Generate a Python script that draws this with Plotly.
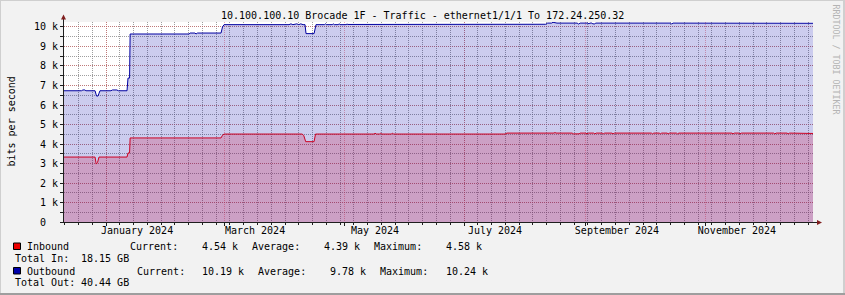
import plotly.graph_objects as go

# ---------------- data ----------------
title_text = "10.100.100.10 Brocade 1F - Traffic - ethernet1/1/1 To 172.24.250.32"
y_title = "bits per second"
watermark = "RRDTOOL / TOBI OETIKER"

x_range = ["2023-12-10 15:00", "2024-12-25 10:00"]
y_max = 10256

month_ticks = ["2024-01-01", "2024-03-01", "2024-05-01", "2024-07-01", "2024-09-01", "2024-11-01"]
month_labels = ["January 2024", "March 2024", "May 2024", "July 2024", "September 2024", "November 2024"]

y_tickvals = [0, 1000, 2000, 3000, 4000, 5000, 6000, 7000, 8000, 9000, 10000]
y_ticktext = ["0\u00a0\u00a0", "1 k", "2 k", "3 k", "4 k", "5 k", "6 k", "7 k", "8 k", "9 k", "10 k"]

out_dates = [
    "2023-12-10 15:00", "2023-12-19 12:00", "2023-12-20 06:00", "2023-12-21 06:00", "2023-12-21 18:00",
    "2023-12-26 10:00", "2023-12-27 04:00", "2023-12-27 22:00", "2023-12-28 10:00", "2023-12-28 22:00",
    "2024-01-03 12:00", "2024-01-04 06:00", "2024-01-06 12:00", "2024-01-07 06:00", "2024-01-11 16:00",
    "2024-01-12 04:00", "2024-01-12 23:00", "2024-01-13 06:00", "2024-02-12 05:00", "2024-02-12 17:00",
    "2024-02-15 05:00", "2024-02-15 18:00", "2024-02-16 12:00", "2024-02-28 11:00", "2024-02-29 05:00",
    "2024-03-01 00:00", "2024-04-03 00:00", "2024-04-04 00:00", "2024-04-05 00:00", "2024-04-07 00:00",
    "2024-04-08 00:00", "2024-04-09 00:00", "2024-04-10 04:00", "2024-04-11 04:00", "2024-04-11 16:00",
    "2024-04-15 18:00", "2024-04-16 18:00", "2024-04-21 00:00", "2024-04-21 12:00", "2024-04-22 00:00",
    "2024-04-25 00:00", "2024-04-25 12:00", "2024-04-26 00:00", "2024-04-28 00:00", "2024-04-28 12:00",
    "2024-04-29 00:00", "2024-05-02 00:00", "2024-05-02 12:00", "2024-05-03 00:00", "2024-08-11 12:00",
    "2024-08-12 12:00", "2024-08-14 12:00", "2024-08-15 06:00", "2024-08-16 06:00", "2024-08-17 06:00",
    "2024-08-27 12:00", "2024-08-28 06:00", "2024-08-29 00:00", "2024-09-02 00:00", "2024-09-02 12:00",
    "2024-09-03 00:00", "2024-09-04 00:00", "2024-09-04 12:00", "2024-09-05 12:00", "2024-09-06 00:00",
    "2024-10-14 00:00", "2024-10-14 12:00", "2024-10-15 06:00", "2024-12-25 10:00",
]
out_vals = [
    6730, 6730, 6770, 6770, 6730,
    6730, 6460, 6460, 6600, 6730,
    6730, 6770, 6770, 6730, 6730,
    7380, 7380, 9640, 9640, 9690,
    9690, 9640, 9690, 9690, 10000,
    10120, 10120, 10160, 10120, 10160,
    10120, 10160, 10120, 10120, 9660,
    9660, 10120, 10120, 10160, 10120,
    10120, 10160, 10120, 10120, 10160,
    10120, 10120, 10150, 10130, 10140,
    10200, 10200, 10240, 10220, 10200,
    10200, 10150, 10200, 10200, 10160,
    10200, 10200, 10160, 10160, 10200,
    10200, 10150, 10200, 10190,
]

in_dates = [
    "2023-12-10 15:00", "2023-12-26 10:00", "2023-12-27 00:00", "2023-12-27 16:00", "2023-12-28 10:00",
    "2024-01-11 16:00", "2024-01-12 04:00", "2024-01-12 23:00", "2024-01-13 06:00", "2024-02-28 11:00",
    "2024-02-29 05:00", "2024-03-01 00:00", "2024-04-09 16:00", "2024-04-10 12:00", "2024-04-11 12:00",
    "2024-04-15 18:00", "2024-04-16 12:00", "2024-05-16 06:00", "2024-05-16 18:00", "2024-05-17 12:00",
    "2024-05-19 00:00", "2024-05-19 12:00", "2024-05-20 06:00", "2024-05-25 00:00", "2024-05-25 12:00",
    "2024-05-26 06:00", "2024-07-21 20:00", "2024-07-22 20:00", "2024-08-15 18:00", "2024-08-16 06:00",
    "2024-08-16 18:00", "2024-08-25 00:00", "2024-08-25 12:00", "2024-08-28 12:00", "2024-08-29 00:00",
    "2024-09-01 00:00", "2024-09-01 12:00", "2024-09-02 06:00", "2024-09-05 00:00", "2024-09-05 12:00",
    "2024-09-06 06:00", "2024-09-09 06:00", "2024-09-09 18:00", "2024-09-10 12:00", "2024-09-14 06:00",
    "2024-09-14 18:00", "2024-09-15 12:00", "2024-09-21 12:00", "2024-09-22 00:00", "2024-09-29 12:00",
    "2024-09-30 06:00", "2024-10-04 06:00", "2024-10-04 18:00", "2024-10-05 12:00", "2024-10-08 06:00",
    "2024-10-08 18:00", "2024-10-09 12:00", "2024-10-12 06:00", "2024-10-12 18:00", "2024-10-13 12:00",
    "2024-10-17 00:00", "2024-10-17 12:00", "2024-10-18 06:00", "2024-11-06 06:00", "2024-11-06 18:00",
    "2024-11-07 12:00", "2024-11-14 06:00", "2024-11-14 18:00", "2024-11-15 12:00", "2024-11-17 18:00",
    "2024-11-18 06:00", "2024-11-19 00:00", "2024-12-05 12:00", "2024-12-06 00:00", "2024-12-06 18:00",
    "2024-12-12 06:00", "2024-12-12 18:00", "2024-12-13 12:00", "2024-12-25 10:00",
]
in_vals = [
    3330, 3330, 2970, 3050, 3330,
    3330, 3540, 3540, 4310, 4310,
    4450, 4510, 4510, 4440, 4120,
    4120, 4510, 4510, 4550, 4510,
    4510, 4550, 4510, 4510, 4550,
    4510, 4510, 4560, 4560, 4590,
    4560, 4560, 4520, 4520, 4560,
    4560, 4520, 4560, 4560, 4520,
    4560, 4560, 4520, 4560, 4560,
    4520, 4560, 4560, 4525, 4525,
    4560, 4560, 4520, 4560, 4560,
    4520, 4560, 4560, 4520, 4560,
    4560, 4520, 4560, 4560, 4530,
    4560, 4560, 4520, 4560, 4560,
    4520, 4560, 4560, 4520, 4560,
    4560, 4520, 4560, 4540,
]

series_names = ["Inbound", "Outbound"]
current_vals = ["4.54 k", "10.19 k"]
average_vals = ["4.39 k", "9.78 k"]
maximum_vals = ["4.58 k", "10.24 k"]
total_labels = ["Total In:", "Total Out:"]
total_vals = ["18.15 GB", "40.44 GB"]

# ---------------- style / layout ----------------
W, H = 845, 295
ML, MR, MT, MB = 64, 32, 22, 73
PW, PH = W - ML - MR, H - MT - MB
Y0 = H - MB  # pixel row of y = 0

FONT = "DejaVu Sans Mono"
BG = "#F2F2F2"
OUT_LINE = "#0000A0"
OUT_FILL = "rgba(0,0,170,0.2)"
IN_LINE = "#CC0022"
IN_FILL = "rgba(204,0,51,0.216)"
SQ_COLORS = ["#EE0000", "#0000AA"]
GRID = "rgba(120,120,120,0.72)"
MGRID = "rgba(230,80,80,0.47)"
AXIS = "#1F1F1F"
ARROW = "#801F1F"


def px(x):
    return (x - ML) / PW


def py(y):
    return (Y0 - y) / PH


fig = go.Figure()
fig.add_trace(go.Scatter(
    x=out_dates, y=out_vals, mode="lines", fill="tozeroy", fillcolor=OUT_FILL,
    line=dict(color=OUT_LINE, width=1), hoverinfo="skip", name=series_names[1]))
fig.add_trace(go.Scatter(
    x=in_dates, y=in_vals, mode="lines", fill="tozeroy", fillcolor=IN_FILL,
    line=dict(color=IN_LINE, width=1), hoverinfo="skip", name=series_names[0]))

annotations = []


def txt(x, y, s, xanchor="left", size=10, color="black", angle=0):
    annotations.append(dict(
        x=px(x), y=py(y), xref="paper", yref="paper", text=s, showarrow=False,
        xanchor=xanchor, yanchor="middle", textangle=angle, borderpad=0,
        font=dict(family=FONT, size=size, color=color)))


txt(422, 15.5, title_text, xanchor="center")
txt(10.5, 122, y_title, xanchor="center", angle=-90)
txt(835.5, 60, watermark, xanchor="center", size=8.3, color="#B4B4B4", angle=90)

row_y = [246.5, 271]
total_y = [258.5, 282.5]
cur_lbl_x = [129, 136]
avg_lbl_x = [251, 257]
avg_val_x = [323, 329]
max_lbl_x = [373, 379]
shapes = []
for i in range(2):
    txt(26, row_y[i], series_names[i])
    txt(cur_lbl_x[i], row_y[i], "Current:")
    txt(201, row_y[i], current_vals[i])
    txt(avg_lbl_x[i], row_y[i], "Average:")
    txt(avg_val_x[i], row_y[i], average_vals[i])
    txt(max_lbl_x[i], row_y[i], "Maximum:")
    txt(445, row_y[i], maximum_vals[i])
    txt(14, total_y[i], total_labels[i])
    txt(80, total_y[i], total_vals[i])
    shapes.append(dict(type="rect", xref="paper", yref="paper",
                       x0=px(13.5), x1=px(20.5), y0=py(row_y[i] + 3), y1=py(row_y[i] - 3.5),
                       fillcolor=SQ_COLORS[i], line=dict(color="#000000", width=1)))


def band(x0, y0, x1, y1, color):
    shapes.append(dict(type="rect", xref="paper", yref="paper", x0=px(x0), x1=px(x1),
                       y0=py(y1), y1=py(y0), fillcolor=color, line=dict(width=0), layer="above"))


band(0, 0, W, 1, "#CFCFCF")
band(0, 0, 1, H, "#CFCFCF")
band(W - 2, 0, W, H, "#CFCFCF")
band(0, H - 2, W, H, "#9E9E9E")

# axis extensions and arrows
shapes.append(dict(type="line", xref="paper", yref="paper", x0=px(63.5), x1=px(63.5),
                   y0=py(MT), y1=py(19), line=dict(color=AXIS, width=1)))
shapes.append(dict(type="path", xref="paper", yref="paper",
                   path=f"M {px(61)},{py(19.5)} L {px(63.5)},{py(14.5)} L {px(66)},{py(19.5)} Z",
                   fillcolor=ARROW, line=dict(width=0)))
shapes.append(dict(type="line", xref="paper", yref="paper", x0=px(ML + PW), x1=px(817),
                   y0=py(Y0 + 0.5), y1=py(Y0 + 0.5), line=dict(color=AXIS, width=1)))
shapes.append(dict(type="path", xref="paper", yref="paper",
                   path=f"M {px(817)},{py(Y0 - 2)} L {px(822)},{py(Y0 + 0.5)} L {px(817)},{py(Y0 + 3)} Z",
                   fillcolor=ARROW, line=dict(width=0)))

fig.update_layout(
    width=W, height=H,
    margin=dict(l=ML, r=MR, t=MT, b=MB, pad=0),
    paper_bgcolor=BG, plot_bgcolor="#FFFFFF",
    showlegend=False,
    font=dict(family=FONT, size=10, color="black"),
    annotations=annotations,
    shapes=shapes,
    xaxis=dict(
        type="date", range=x_range, fixedrange=True,
        tickmode="array", tickvals=month_ticks, ticktext=month_labels,
        ticklabelshift=31, ticklabelstandoff=-4,
        ticks="outside", ticklen=3, tickcolor=AXIS, tickwidth=1,
        showgrid=True, gridcolor=MGRID, griddash="1px,1px", gridwidth=1,
        showline=True, linecolor=AXIS, linewidth=1,
        tickfont=dict(family=FONT, size=10, color="black"),
        minor=dict(tickmode="linear", tick0="2024-01-01", dtick=7 * 86400000,
                   showgrid=True, gridcolor=GRID, griddash="1px,1px", gridwidth=1,
                   ticks="outside", ticklen=2, tickcolor=AXIS),
        zeroline=False,
    ),
    yaxis=dict(
        range=[0, y_max], fixedrange=True,
        tickmode="array", tickvals=y_tickvals, ticktext=y_ticktext,
        ticks="outside", ticklen=3, tickcolor=AXIS, tickwidth=1,
        showgrid=True, gridcolor=MGRID, griddash="1px,1px", gridwidth=1,
        showline=True, linecolor=AXIS, linewidth=1,
        tickfont=dict(family=FONT, size=10, color="black"),
        minor=dict(tickmode="linear", tick0=0, dtick=500,
                   showgrid=True, gridcolor=GRID, griddash="1px,1px", gridwidth=1,
                   ticks="outside", ticklen=3, tickcolor=AXIS),
        zeroline=False,
    ),
)

fig.write_html("out.html", config={"displayModeBar": False, "staticPlot": True})
